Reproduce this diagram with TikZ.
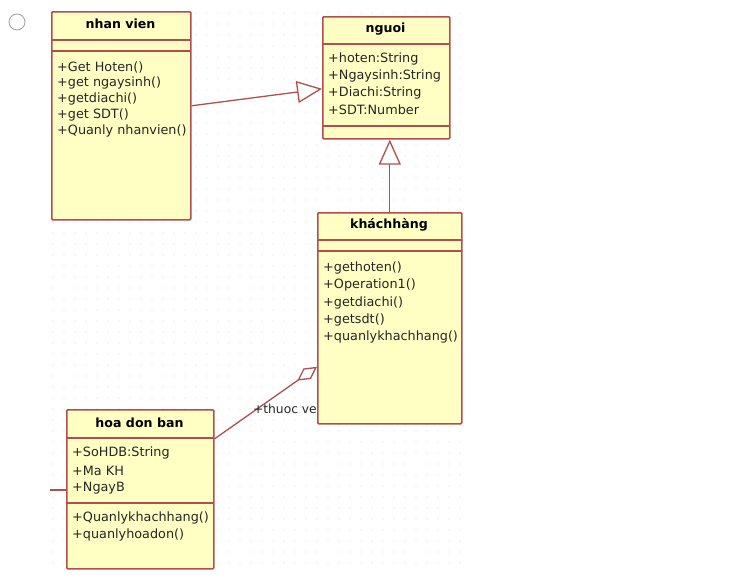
\documentclass[tikz,border=0pt]{standalone}
\usepackage{fontspec}
\setmainfont{DejaVu Sans}
\usepackage{xcolor}
\definecolor{umlline}{RGB}{178,78,78}
\definecolor{umlfill}{RGB}{255,255,196}
\definecolor{griddot}{RGB}{218,218,218}
\usetikzlibrary{arrows.meta}
\usetikzlibrary{positioning}
\usetikzlibrary{calc}

\tikzset{
  classbox/.style={draw=umlline, fill=umlfill, line width=1.6pt, rounded corners=1pt, anchor=north west, inner sep=0},
  classname/.style={font=\bfseries\fontsize{12.6}{14}\selectfont, inner sep=0},
  item/.style={anchor=west, inner sep=0, font=\fontsize{12.8}{14}\selectfont, text=black!85},
  sep/.style={draw=umlline, line width=1.5pt},
  gen/.style={draw=umlline, line width=1.3pt, -{Triangle[open, length=25pt, width=22pt, fill=white]}},
  agg/.style={draw=umlline, line width=1.3pt, -{Diamond[open, length=24pt, width=13pt, fill=white]}},
  assoc/.style={draw=umlline, line width=1.3pt}
}

\begin{document}
\begin{tikzpicture}[x=1pt, y=-1pt]
  \useasboundingbox (0,0) rectangle (738,584);

  % dotted background grid
  \foreach \gx in {53,64,...,460}
    \foreach \gy in {13,24,...,565}
      \fill[griddot] (\gx,\gy) circle (0.6pt);

  % radio button
  \node[circle, draw=gray!70, line width=0.9pt, minimum size=16pt, inner sep=0] (radio) at (17,22) {};

  % nhan vien
  \node[classbox, minimum width=139pt, minimum height=208pt] (nv) at (51,11) {};
  \node[classname] (nv-name) at (120.5,23.5) {nhan vien};
  \draw[sep] (51,40) -- (190,40);
  \draw[sep] (51,51) -- (190,51);
  \foreach \t [count=\i from 0] in {+Get Hoten(),+get ngaysinh(),+getdiachi(),+get SDT(),+Quanly nhanvien()}
    \node[item] (nv-op\i) at (57,67+16*\i) {\t};

  % nguoi
  \node[classbox, minimum width=127pt, minimum height=122pt] (ng) at (322,16) {};
  \node[classname] (ng-name) at (385.5,29) {nguoi};
  \draw[sep] (322,44) -- (449,44);
  \foreach \t [count=\i from 0] in {+hoten:String,+Ngaysinh:String,+Diachi:String,+SDT:Number}
    \node[item] (ng-at\i) at (328,59+17*\i) {\t};
  \draw[sep] (322,126) -- (449,126);

  % khach hang
  \node[classbox, minimum width=144pt, minimum height=211pt] (kh) at (317,212) {};
  \node[classname] (kh-name) at (389,225) {kháchhàng};
  \draw[sep] (317,240) -- (461,240);
  \draw[sep] (317,251) -- (461,251);
  \foreach \t [count=\i from 0] in {+gethoten(),+Operation1(),+getdiachi(),+getsdt(),+quanlykhachhang()}
    \node[item] (kh-op\i) at (323,268+17.3*\i) {\t};

  % hoa don ban
  \node[classbox, minimum width=147pt, minimum height=159pt] (hd) at (66,409) {};
  \node[classname] (hd-name) at (139.5,422.5) {hoa don ban};
  \draw[sep] (66,438) -- (213,438);
  \foreach \t [count=\i from 0] in {+SoHDB:String,+Ma KH,+NgayB}
    \node[item] (hd-at\i) at (72,453+17.5*\i) {\t};
  \draw[sep] (66,503) -- (213,503);
  \foreach \t [count=\i from 0] in {+Quanlykhachhang(),+quanlyhoadon()}
    \node[item] (hd-op\i) at (72,518+17*\i) {\t};

  % relations
  \draw[gen] ([yshift=10pt]nv.east) -- ([yshift=-11pt]ng.west);
  \draw[gen] (kh.north) -- (kh.north |- ng.south);
  \draw[agg] ([yshift=50.5pt]hd.east) -- ([yshift=-48.5pt]kh.west);
  \node[item, anchor=east, font=\fontsize{12.3}{14}\selectfont] (role) at ([yshift=-90.5pt]kh.west) {+thuoc ve};
  \coordinate (stub) at (50,490);
  \draw[assoc] (stub) -- (stub -| hd.west);
\end{tikzpicture}
\end{document}
